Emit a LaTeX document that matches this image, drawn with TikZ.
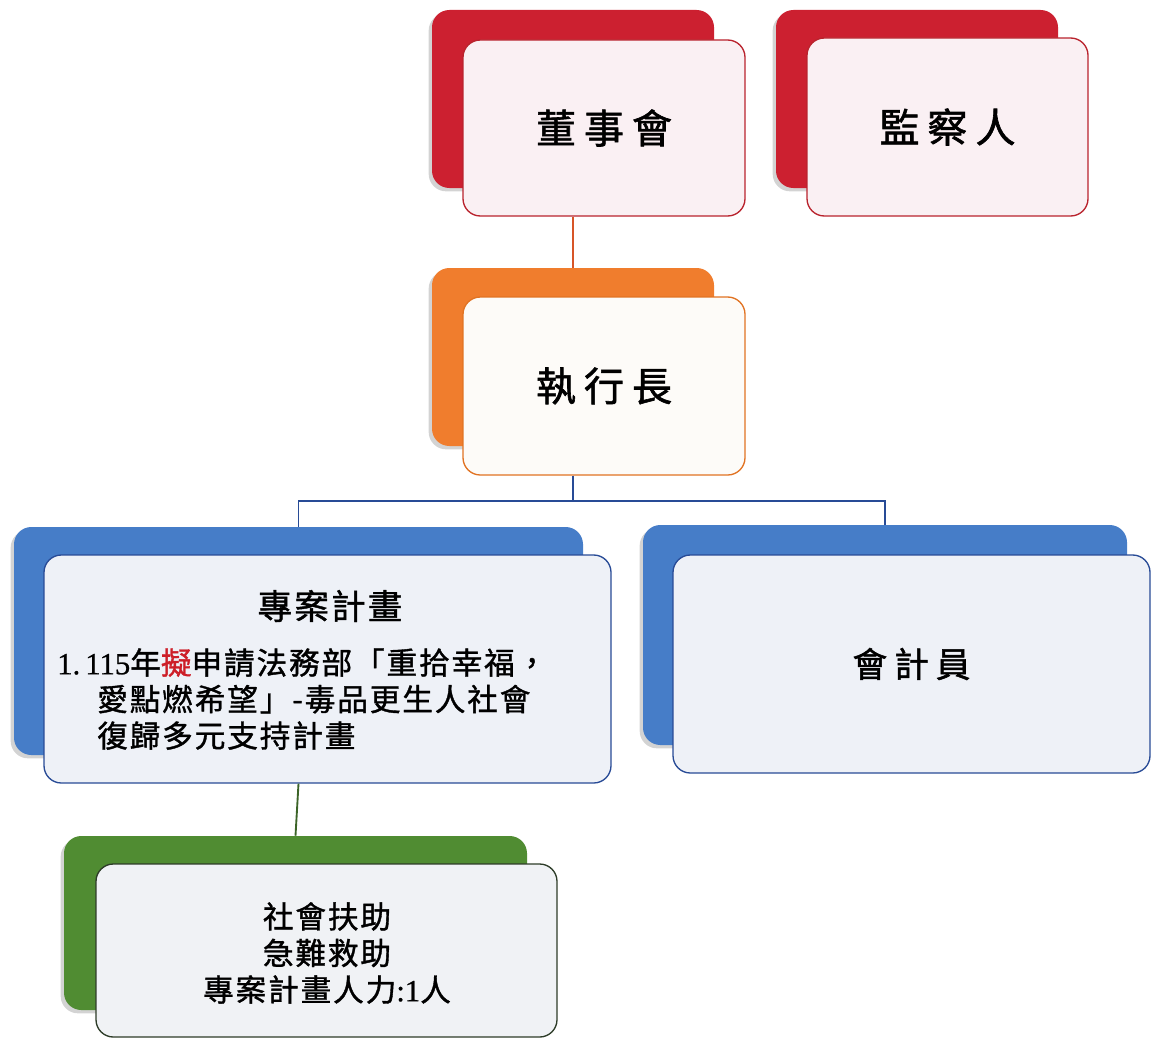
\documentclass[tikz,border=0pt]{standalone}
\usepackage{fontspec}
\setmainfont{Noto Sans CJK TC}
\newfontfamily\widecjk[LetterSpace=20,FakeBold=1.5]{Noto Sans CJK TC}
\newfontfamily\midcjk[LetterSpace=6,FakeBold=1.2]{Noto Sans CJK TC}
\newfontfamily\serifnum[FakeBold=0.8]{Liberation Serif}
\usetikzlibrary{shadows}

\definecolor{redback}{RGB}{204,32,48}
\definecolor{redline}{RGB}{185,35,45}
\definecolor{redfill}{RGB}{250,240,243}
\definecolor{orangeback}{RGB}{240,125,45}
\definecolor{orangeline}{RGB}{225,115,35}
\definecolor{orangefill}{RGB}{253,251,248}
\definecolor{blueback}{RGB}{70,125,200}
\definecolor{blueline}{RGB}{40,75,150}
\definecolor{bluefill}{RGB}{238,241,247}
\definecolor{greenback}{RGB}{80,140,50}
\definecolor{greenline}{RGB}{45,60,40}
\definecolor{greenfill}{RGB}{240,242,245}
\definecolor{markred}{RGB}{205,30,40}
\definecolor{toplink}{RGB}{215,85,40}
\definecolor{greenlink}{RGB}{60,100,40}

\tikzset{
  back/.style={rounded corners=13pt, fill=#1, draw=none,
    drop shadow={shadow xshift=-2.5pt, shadow yshift=-2.5pt, opacity=0.35}},
  front/.style n args={2}{rounded corners=13pt, draw=#1, fill=#2, line width=1pt, inner sep=0pt},
  bigtitle/.style={font=\widecjk\fontsize{30}{36}\selectfont},
  linkline/.style={draw=#1, line width=1.4pt},
}

\begin{document}
\begin{tikzpicture}[x=0.75pt,y=0.75pt,yscale=-1,xscale=1]
\useasboundingbox (0,0) rectangle (1151,1038);

%Back Cards
\node [back=redback, minimum width=211.5pt, minimum height=133.5pt] (boardback) at (573,99) {};
\node [back=redback, minimum width=211.5pt, minimum height=133.5pt] (supback) at (917,99) {};
\node [back=orangeback, minimum width=211.5pt, minimum height=133.5pt] (ceoback) at (573,357) {};
\node [back=blueback, minimum width=426.75pt, minimum height=171pt] (projback) at (298.5,641) {};
\node [back=blueback, minimum width=363pt, minimum height=165pt] (acctback) at (885,635) {};
\node [back=greenback, minimum width=347.25pt, minimum height=130.5pt] (aidback) at (295.5,923) {};

%Front Cards
\node [front={redline}{redfill}, minimum width=211.5pt, minimum height=132pt, bigtitle] (boardfront) at (604,128) {董事會};
\node [front={redline}{redfill}, minimum width=210.75pt, minimum height=133.5pt, bigtitle] (supfront) at (947.5,127) {監察人};
\node [front={orangeline}{orangefill}, minimum width=211.5pt, minimum height=133.5pt, bigtitle] (ceofront) at (604,386) {執行長};
\node [front={blueline}{bluefill}, minimum width=425.25pt, minimum height=171pt] (projfront) at (327.5,669) {};
\node [front={blueline}{bluefill}, minimum width=357.75pt, minimum height=163.5pt, font=\widecjk\fontsize{26}{32}\selectfont] (acctfront) at (911.5,664) {會計員};
\node [front={greenline}{greenfill}, minimum width=345.75pt, minimum height=129.75pt] (aidfront) at (326.5,950.5) {};

%Connectors
\draw [linkline=toplink] (boardback.center |- boardfront.south) -- (ceoback.north);
\draw [linkline=blueline] (ceoback.center |- ceofront.south) -- ++(0,25) -| (projback.north);
\draw [linkline=blueline] (ceoback.center |- ceofront.south) -- ++(0,25) -| (acctback.north);
\draw [linkline=greenlink] (projback.center |- projfront.south) -- (aidback.north);

% Text Node
\node [font=\midcjk\fontsize{26}{32}\selectfont] (projtitle) at (330,606) {專案計畫};
% Text Node
\node [anchor=north west, inner sep=0pt, align=left, font=\midcjk\fontsize{23}{27.4}\selectfont] (projbody) at (57,648)
  {{\serifnum 1.\,115}年{\color{markred}擬}申請法務部「重拾幸福，\\
   \hspace*{30pt}愛點燃希望」-毒品更生人社會\\
   \hspace*{30pt}復歸多元支持計畫};
% Text Node
\node [align=center, font=\midcjk\fontsize{23}{27.4}\selectfont] (aidtext) at (327,953)
  {社會扶助\\急難救助\\專案計畫人力{\serifnum :1}人};

\end{tikzpicture}
\end{document}
